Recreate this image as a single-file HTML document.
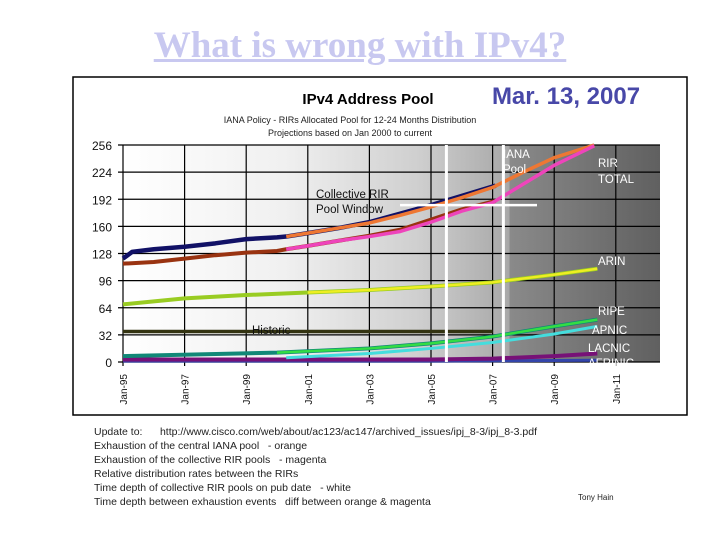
<!DOCTYPE html>
<html><head><meta charset="utf-8"><style>
body{margin:0;width:720px;height:540px;background:#fff;overflow:hidden;font-family:"Liberation Sans",sans-serif}
#title{position:absolute;left:0;width:720px;top:24px;text-align:center;font-family:"Liberation Serif",serif;font-size:37px;font-weight:bold;color:#c8c8f0;text-decoration:underline}
.note{position:absolute;left:94px;font-size:10.5px;color:#222;white-space:nowrap}
</style></head><body>
<div id="title">What is wrong with IPv4?</div>
<svg width="720" height="540" style="position:absolute;left:0;top:0">
<defs>
<linearGradient id="bg" x1="0" x2="1" y1="0" y2="0">
<stop offset="0" stop-color="#ffffff"/><stop offset="0.3" stop-color="#f0f0f0"/><stop offset="0.55" stop-color="#cfcfcf"/><stop offset="0.72" stop-color="#a8a8a8"/><stop offset="0.72" stop-color="#8a8a8a"/><stop offset="1" stop-color="#606060"/>
</linearGradient>
</defs>
<rect x="73" y="77" width="614" height="338" fill="#fff" stroke="#000" stroke-width="1.5"/>
<text x="368" y="104" font-size="15" font-weight="bold" text-anchor="middle" font-family="Liberation Sans">IPv4 Address Pool</text>
<text x="566" y="104" font-size="24" font-weight="bold" fill="#4848a8" text-anchor="middle" font-family="Liberation Sans">Mar. 13, 2007</text>
<text x="350" y="123" font-size="9" text-anchor="middle" fill="#222">IANA Policy - RIRs Allocated Pool for 12-24 Months Distribution</text>
<text x="350" y="136" font-size="9" text-anchor="middle" fill="#222">Projections based on Jan 2000 to current</text>
<g id="plot"></g>
</svg>
<div class="note" style="top:426px">Update to:&nbsp;&nbsp;&nbsp;&nbsp;&nbsp; http://www.cisco.com/web/about/ac123/ac147/archived_issues/ipj_8-3/ipj_8-3.pdf</div>
<div class="note" style="top:440px">Exhaustion of the central IANA pool&nbsp;&nbsp; - orange</div>
<div class="note" style="top:454px">Exhaustion of the collective RIR pools&nbsp;&nbsp; - magenta</div>
<div class="note" style="top:468px">Relative distribution rates between the RIRs</div>
<div class="note" style="top:482px">Time depth of collective RIR pools on pub date&nbsp;&nbsp; - white</div>
<div class="note" style="top:496px">Time depth between exhaustion events&nbsp;&nbsp; diff between orange &amp; magenta</div>
<div class="note" style="top:493px;left:578px;font-size:8px">Tony Hain</div>
<script>
const yTicks=[0,32,64,96,128,160,192,224,256];
const xTickYears=[1995,1997,1999,2001,2003,2005,2007,2009,2011];
const xTickLabels=["Jan-95","Jan-97","Jan-99","Jan-01","Jan-03","Jan-05","Jan-07","Jan-09","Jan-11"];
const totalYears=[1995,1995.3,1996,1997,1998,1999,2000,2000.3,2001,2002,2003,2004,2005,2006,2007.1];
const totalVals=[122,130,133,136,140,145,147,148,152,158,165,175,185,196,208];
const ianaYears=[2000.3,2001,2002,2003,2004,2005,2006,2007,2008,2009,2010.3];
const ianaVals=[148,152,158,164,173,183,194,206,224,241,256];
const rirHistYears=[1995,1996,1997,1998,1999,2000,2000.3,2001,2002,2003,2004,2005,2006,2007.1];
const rirHistVals=[116,118,122,126,129,131,133,137,143,149,156,168,180,190];
const rirYears=[2000.3,2001,2002,2003,2004,2005,2006,2007,2008,2009,2010.3];
const rirVals=[133,137,143,148,154,165,178,188,210,232,255];
const arinYears=[1995,1997,1999,2001,2003,2005,2007,2009,2010.4];
const arinVals=[68,75,79,82,85,89,94,103,110];
const ripeYears=[1995,2000,2003,2005,2007,2009,2010.4];
const ripeVals=[7,11,16,22,30,42,50];
const apnicYears=[2000.3,2003,2005,2007,2009,2010.4];
const apnicVals=[5,10,16,23,33,42];
const lacnicYears=[1995,2000,2005,2007,2009,2010.4];
const lacnicVals=[3,3,3,4,7,10];
const afrinicYears=[1995,2005,2010.4];
const afrinicVals=[1,1,2];
const historicYears=[1995,2007];
const historicVals=[36,36];
const x0=123,pxYr=30.8,y0=362,pxU=(362-145)/256;
const X=t=>x0+(t-1995)*pxYr, Y=v=>y0-v*pxU;
const NS="http://www.w3.org/2000/svg", g=document.getElementById('plot');
function mk(tag,a){const e=document.createElementNS(NS,tag);for(const k in a)e.setAttribute(k,a[k]);g.appendChild(e);return e;}
const bg=mk('rect',{x:X(1995),y:Y(256),width:660-X(1995),height:Y(0)-Y(256),fill:'url(#bg)'});


yTicks.forEach(v=>{
 const l=mk('line',{x1:X(1995)-5,x2:660,y1:Y(v),y2:Y(v),stroke:'#000','stroke-width':1.2});
 
 
 const t=mk('text',{x:112,y:Y(v)+5,'font-size':12,'text-anchor':'end',fill:'#111'});t.textContent=v;
 
 
});
xTickYears.forEach((yr,i)=>{
 const l=mk('line',{x1:X(yr),x2:X(yr),y1:Y(256),y2:Y(0)+4,stroke:'#000','stroke-width':1.2});
 
 
 const t=mk('text',{transform:`translate(${X(yr)+4},${Y(0)+12}) rotate(-90)`,'font-size':10,'text-anchor':'end',fill:'#111'});t.textContent=xTickLabels[i];
 
 
});
function line(xs,vs,color,w,name){
 const p=mk('polyline',{points:xs.map((t,i)=>X(t)+','+Y(vs[i])).join(' '),fill:'none',stroke:color,'stroke-width':w,'stroke-linejoin':'round'});
 
 
}
line(historicYears,historicVals,'#333311',3.5,'historic-line');
line(afrinicYears,afrinicVals,'#3344aa',3,'afrinic-line');
line(lacnicYears,lacnicVals,'#771177',4,'lacnic-line');
line(apnicYears,apnicVals,'#44dddd',3,'apnic-line');
line(ripeYears,ripeVals,'#118877',4,'ripe-line');
line(ripeYears.slice(1),ripeVals.slice(1),'#33dd44',2.5,'ripe-projection');
line(arinYears,arinVals,'#99cc22',4,'arin-line');
line(arinYears.slice(3),arinVals.slice(3),'#eeee22',2.5,'arin-projection');
line(totalYears,totalVals,'#111166',4.5,'total-allocated-line');
line(rirHistYears,rirHistVals,'#993311',4,'rir-allocated-line');
line(ianaYears,ianaVals,'#ee7733',3.5,'iana-pool-projection');
line(rirYears,rirVals,'#ee44bb',3.5,'rir-total-projection');
[2005.5,2007.35].forEach(t=>{const l=mk('line',{x1:X(t),x2:X(t),y1:Y(256),y2:Y(0),stroke:'#fff','stroke-width':3});
 
 });
const h=mk('line',{x1:400,x2:537,y1:Y(185),y2:Y(185),stroke:'#fff','stroke-width':2.5});


const labels=[["Historic",252,334,'#111'],["Collective RIR",316,198,'#111'],["Pool Window",316,213,'#111'],["IANA",503,158,'#fff'],["Pool",503,173,'#fff'],["RIR",598,167,'#fff'],["TOTAL",598,183,'#fff'],["ARIN",598,265,'#fff'],["RIPE",598,315,'#fff'],["APNIC",592,334,'#fff'],["LACNIC",588,352,'#fff'],["AFRINIC",588,367,'#fff']];
labels.forEach(([s,x,y,c])=>{const t=mk('text',{x,y,'font-size':11.5,fill:c});t.textContent=s;
 
 });
</script>
</body></html>
